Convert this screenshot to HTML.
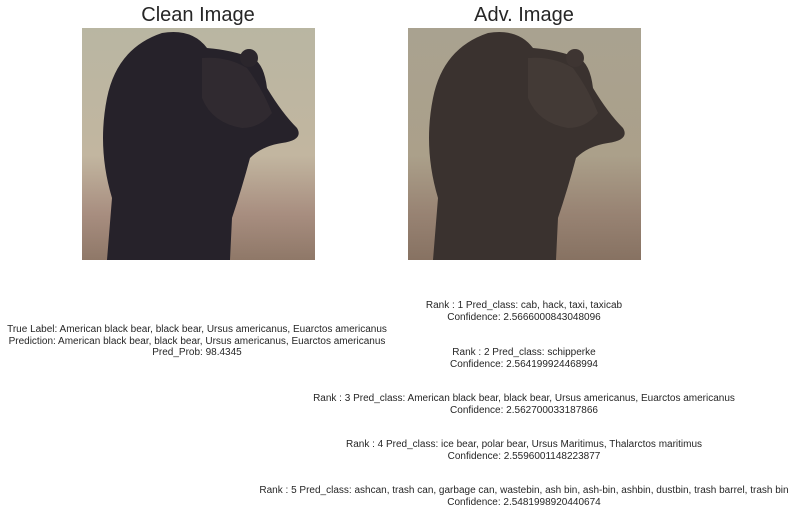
<!DOCTYPE html>
<html><head><meta charset="utf-8"><style>
body{margin:0;width:794px;height:525px;background:#fff;position:relative;overflow:hidden;font-family:"Liberation Sans",sans-serif;color:#262626}
.t{position:absolute;font-size:20px;text-align:center;width:300px}
.l{position:absolute;font-size:10px;line-height:11.5px;text-align:center;white-space:nowrap;transform:translateX(-50%)}
svg{position:absolute}
</style></head><body>
<div class="t" style="left:48px;top:4px">Clean Image</div>
<div class="t" style="left:374px;top:4px">Adv. Image</div>

<svg style="left:82px;top:28px" width="233" height="232" viewBox="0 0 233 232">
<defs><linearGradient id="g1" x1="0" y1="0" x2="0" y2="1"><stop offset="0" stop-color="#b9b6a2"/><stop offset="0.55" stop-color="#c2b6a0"/><stop offset="0.8" stop-color="#a88e80"/><stop offset="1" stop-color="#8f7868"/></linearGradient></defs>
<rect width="233" height="232" fill="url(#g1)"/>
<path d="M25 232 L30 170 Q15 120 25 70 Q35 20 80 5 Q110 0 125 20 Q150 22 170 30 Q182 35 185 60 Q200 85 215 100 Q222 112 200 115 Q180 118 168 130 Q160 160 150 190 L148 232 Z" fill="#26222a"/>
<path d="M120 30 Q145 28 165 40 Q180 60 190 85 Q178 100 160 100 Q130 95 120 70 Z" fill="#302a30"/>
<circle cx="167" cy="30" r="9" fill="#2b262c"/>
</svg>

<svg style="left:408px;top:28px" width="233" height="232" viewBox="0 0 233 232">
<defs><linearGradient id="g2" x1="0" y1="0" x2="0" y2="1"><stop offset="0" stop-color="#a9a290"/><stop offset="0.55" stop-color="#aba08a"/><stop offset="0.8" stop-color="#988373"/><stop offset="1" stop-color="#877262"/></linearGradient></defs>
<rect width="233" height="232" fill="url(#g2)"/>
<path d="M25 232 L30 170 Q15 120 25 70 Q35 20 80 5 Q110 0 125 20 Q150 22 170 30 Q182 35 185 60 Q200 85 215 100 Q222 112 200 115 Q180 118 168 130 Q160 160 150 190 L148 232 Z" fill="#3a322f"/>
<path d="M120 30 Q145 28 165 40 Q180 60 190 85 Q178 100 160 100 Q130 95 120 70 Z" fill="#433a36"/>
<circle cx="167" cy="30" r="9" fill="#3e3532"/>
</svg>

<div class="l" style="left:197px;top:324px">True Label: American black bear, black bear, Ursus americanus, Euarctos americanus<br>Prediction: American black bear, black bear, Ursus americanus, Euarctos americanus<br>Pred_Prob: 98.4345</div>

<div class="l" style="left:524px;top:300px">Rank : 1 Pred_class: cab, hack, taxi, taxicab<br>Confidence: 2.5666000843048096</div>
<div class="l" style="left:524px;top:347px">Rank : 2 Pred_class: schipperke<br>Confidence: 2.564199924468994</div>
<div class="l" style="left:524px;top:393px">Rank : 3 Pred_class: American black bear, black bear, Ursus americanus, Euarctos americanus<br>Confidence: 2.562700033187866</div>
<div class="l" style="left:524px;top:439px">Rank : 4 Pred_class: ice bear, polar bear, Ursus Maritimus, Thalarctos maritimus<br>Confidence: 2.5596001148223877</div>
<div class="l" style="left:524px;top:485px">Rank : 5 Pred_class: ashcan, trash can, garbage can, wastebin, ash bin, ash-bin, ashbin, dustbin, trash barrel, trash bin<br>Confidence: 2.5481998920440674</div>
</body></html>
